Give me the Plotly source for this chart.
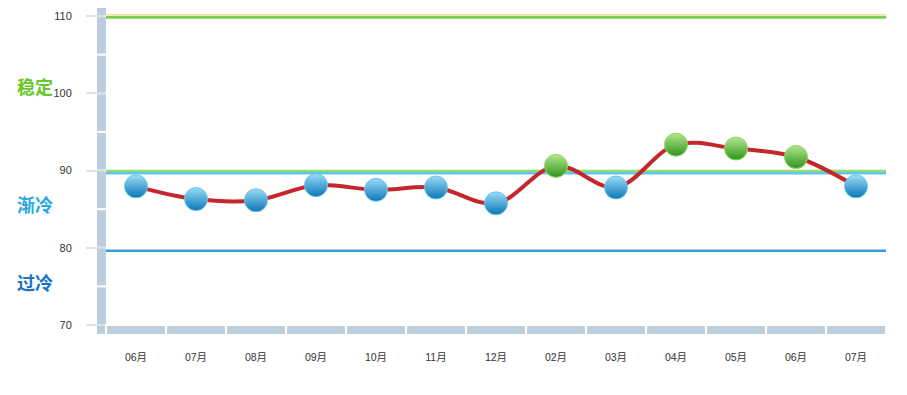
import plotly.graph_objects as go

months = ["06月", "07月", "08月", "09月", "10月", "11月", "12月", "02月", "03月", "04月", "05月", "06月", "07月"]
values = [87.95, 86.3, 86.15, 88.1, 87.5, 87.8, 85.75, 90.6, 87.8, 93.35, 92.85, 91.75, 87.95]
threshold = 90
y_ticks = [70, 80, 90, 100, 110]
zones = [("稳定", 101.0, "#66c82a"), ("渐冷", 85.7, "#2aa8e6"), ("过冷", 75.6, "#1c72c4")]
ref_lines = [(109.85, "#78d04a", 3), (89.95, "#92dc6c", 2.5), (89.65, "#5ec6ef", 2.5), (79.6, "#3a9ce0", 2.5)]

# page body has an 8px margin; figure coordinates are offset accordingly
Y0, Y1 = 70, 111.04
xs = list(range(len(months)))

fig = go.Figure()

fig.add_trace(go.Scatter(x=xs, y=values, mode="lines",
                         line=dict(color="#c4262b", width=4, shape="spline", smoothing=1.0),
                         hoverinfo="skip", showlegend=False))

blue_x = [x for x, v in zip(xs, values) if v <= threshold]
blue_y = [v for v in values if v <= threshold]
green_x = [x for x, v in zip(xs, values) if v > threshold]
green_y = [v for v in values if v > threshold]

fig.add_trace(go.Scatter(x=blue_x, y=blue_y, mode="markers",
                         marker=dict(size=23, color="#9adcf8",
                                     gradient=dict(type="vertical", color="#0b77b6"),
                                     line=dict(color="#6cc6ee", width=1)),
                         showlegend=False))
fig.add_trace(go.Scatter(x=green_x, y=green_y, mode="markers",
                         marker=dict(size=23, color="#b4e68a",
                                     gradient=dict(type="vertical", color="#2f961c"),
                                     line=dict(color="#8fd66a", width=1)),
                         showlegend=False))

shapes = []
for val, col, w in ref_lines:
    shapes.append(dict(type="line", xref="paper", yref="y", x0=0, x1=1, y0=val, y1=val,
                       line=dict(color=col, width=w), layer="below"))
shapes.append(dict(type="line", xref="paper", yref="y", x0=0, x1=1, y0=110.15, y1=110.15,
                   line=dict(color="#f0e6a0", width=1.5), layer="below"))

bar_col = "#bccddd"
plot_w = 780.0
plot_h = 317.0
def yp(v):
    return (v - Y0) / (Y1 - Y0)

bounds = list(range(70, 115, 5))
bounds = [b for b in bounds if b < Y1] + [Y1]
for a, b in zip(bounds[:-1], bounds[1:]):
    shapes.append(dict(type="rect", xref="paper", yref="paper",
                       x0=-9 / plot_w, x1=0, y0=yp(a) + 1 / plot_h, y1=yp(b) - (1 / plot_h if b != Y1 else 0),
                       fillcolor=bar_col, line=dict(width=0), layer="above"))
shapes.append(dict(type="rect", xref="paper", yref="paper",
                   x0=-9 / plot_w, x1=-1 / plot_w, y0=-9 / plot_h, y1=-1 / plot_h,
                   fillcolor=bar_col, line=dict(width=0), layer="above"))
for i in xs:
    shapes.append(dict(type="rect", xref="x", yref="paper",
                       x0=i - 0.5 + 1 / 60, x1=i + 0.5 - 1 / 60, y0=-9 / plot_h, y1=-1 / plot_h,
                       fillcolor=bar_col, line=dict(width=0), layer="above"))

annotations = []
for txt, yv, col in zones:
    annotations.append(dict(text="<b>" + txt + "</b>", xref="paper", yref="y",
                            x=(27 - 98) / plot_w, y=yv, showarrow=False,
                            xanchor="center", yanchor="middle",
                            font=dict(family="Noto Sans CJK SC", size=18, color=col)))

fig.update_layout(
    width=899, height=387,
    margin=dict(l=98, r=21, t=0, b=70),
    plot_bgcolor="white", paper_bgcolor="white",
    shapes=shapes, annotations=annotations,
    xaxis=dict(range=[-0.5, len(months) - 0.5], tickvals=xs, ticktext=months,
               showgrid=False, zeroline=False, showline=False, ticks="",
               ticklabelstandoff=24,
               tickfont=dict(family="Liberation Sans, Noto Sans CJK SC", size=10.5, color="#333333"),
               fixedrange=True),
    yaxis=dict(range=[Y0, Y1], tickvals=y_ticks, ticktext=[str(t) for t in y_ticks],
               showgrid=False, zeroline=False, showline=False,
               ticks="outside", ticklen=19, tickwidth=2, tickcolor="#dae3ec",
               ticklabelstandoff=12,
               tickfont=dict(family="Liberation Sans", size=11, color="#333333"),
               fixedrange=True),
)

fig.write_html("out.html")
